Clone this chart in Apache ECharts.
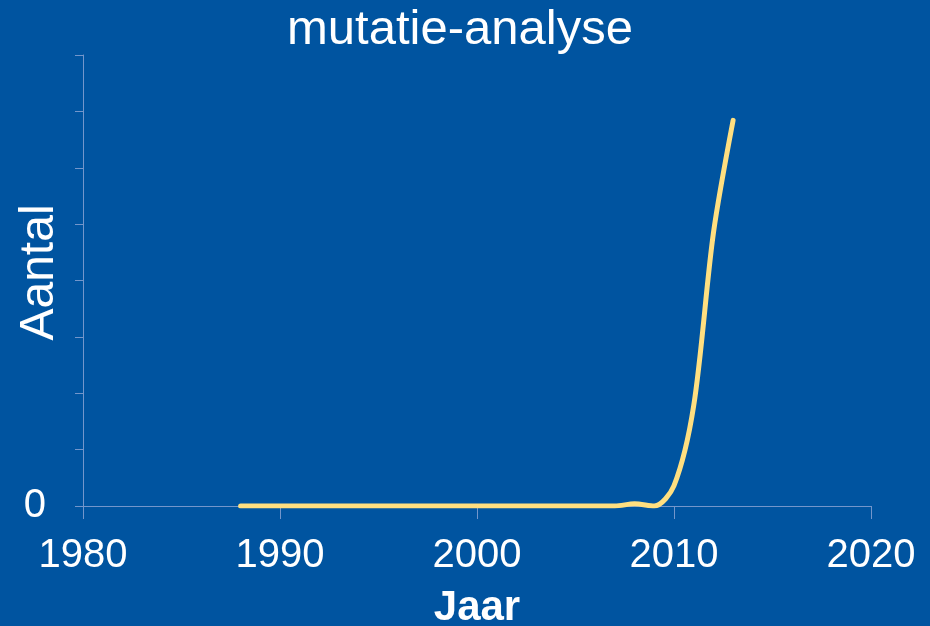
<!DOCTYPE html>
<html>
<head>
<meta charset="utf-8">
<script src="https://cdn.jsdelivr.net/npm/echarts@6/dist/echarts.min.js"></script>
<style>
html,body{margin:0;padding:0;background:#0054A0;}
#main{width:930px;height:626px;}
</style>
</head>
<body>
<div id="main"></div>
<script>
var years = [1988,1989,1990,1991,1992,1993,1994,1995,1996,1997,1998,1999,2000,2001,2002,2003,2004,2005,2006,2007,2008,2009,2010,2011,2012,2013];
var counts = [0,0,0,0,0,0,0,0,0,0,0,0,0,0,0,0,0,0,0,0,4,0,36,178,484,684];
var xTicks = [1980,1990,2000,2010,2020];

var data = years.map(function(y,i){return [y, counts[i]];});
var axisColor = '#7396CB';
var chart = echarts.init(document.getElementById('main'));
chart.setOption({
  backgroundColor: '#0054A0',
  animation: false,
  title: {
    text: 'mutatie-analyse',
    left: 282, top: 1,
    textStyle: {color:'#ffffff', fontFamily:'Liberation Sans', fontSize:49, fontWeight:'normal'}
  },
  grid: {left:83, right:59, top:55, bottom:120, containLabel:false, outerBoundsMode:'none'},
  xAxis: {
    type:'value', min:xTicks[0], max:xTicks[xTicks.length-1], interval:10,
    name:'Jaar', nameLocation:'middle', nameGap:81, nameMoveOverlap:false,
    nameTextStyle:{color:'#ffffff', fontFamily:'Liberation Sans', fontSize:42, fontWeight:'bold'},
    axisLine:{show:true, lineStyle:{color:axisColor, width:1}},
    axisTick:{show:true, length:13, lineStyle:{color:axisColor}},
    axisLabel:{color:'#ffffff', fontFamily:'Liberation Sans', fontSize:40, margin:30,
      formatter:function(v){return String(v);}},
    splitLine:{show:false}
  },
  yAxis: {
    type:'value', min:0, max:800, interval:100,
    name:'Aantal', nameLocation:'middle', nameGap:19, nameRotate:90, nameMoveOverlap:false,
    nameTextStyle:{color:'#ffffff', fontFamily:'Liberation Sans', fontSize:48, padding:[0,0,0,16]},
    axisLine:{show:true, lineStyle:{color:axisColor, width:1}},
    axisTick:{show:true, length:8, lineStyle:{color:axisColor}},
    axisLabel:{color:'#ffffff', fontFamily:'Liberation Sans', fontSize:40, margin:37,
      formatter:function(v){return v===0?'0':'';}},
    splitLine:{show:false}
  },
  series: [{
    type:'line', data:data, smooth:0.3, showSymbol:false, symbol:'none',
    lineStyle:{color:'#FFDF80', width:5, cap:'round', join:'round'}
  }]
});
</script>
</body>
</html>
